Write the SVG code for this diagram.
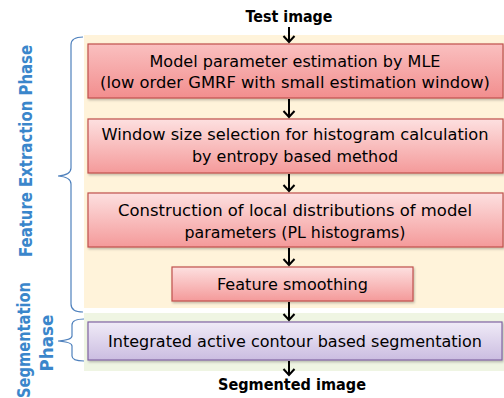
<svg xmlns="http://www.w3.org/2000/svg" width="504" height="398" viewBox="0 0 504 398">
<defs>
<linearGradient id="gPink" x1="0" y1="0" x2="0" y2="1">
<stop offset="0" stop-color="#FDE0E0"/>
<stop offset="1" stop-color="#F49A9A"/>
</linearGradient>
<linearGradient id="gPink1" x1="0" y1="0" x2="0" y2="1">
<stop offset="0" stop-color="#FAC0C0"/>
<stop offset="1" stop-color="#F28E8E"/>
</linearGradient>
<linearGradient id="gPurple" x1="0" y1="0" x2="0" y2="1">
<stop offset="0" stop-color="#F0EBF7"/>
<stop offset="1" stop-color="#CBBDE1"/>
</linearGradient>
<marker id="arr" markerUnits="userSpaceOnUse" markerWidth="14" markerHeight="14" refX="7" refY="7" orient="auto" viewBox="0 0 14 14">
<polyline points="1,1.5 7,7 1,12.5" fill="none" stroke="#000" stroke-width="2"/>
</marker>
<filter id="sh" x="-5%" y="-10%" width="110%" height="130%">
<feDropShadow dx="1" dy="1.5" stdDeviation="1" flood-color="#000" flood-opacity="0.25"/>
</filter>
</defs>
<style>
.bp{fill:url(#gPink);stroke:#C0504D;stroke-width:1.2;filter:url(#sh)}
.bp1{fill:url(#gPink1)}
.bv{fill:url(#gPurple);stroke:#8064A2;stroke-width:1.2;filter:url(#sh)}
.t{font-family:"DejaVu Sans","Liberation Sans",sans-serif;font-size:16.5px;fill:#000;text-anchor:middle}
.tb{font-family:"DejaVu Sans","Liberation Sans",sans-serif;font-size:15.5px;font-weight:bold;fill:#000;text-anchor:middle}
.ph{font-family:"DejaVu Sans","Liberation Sans",sans-serif;font-size:17.5px;font-weight:bold;fill:#3A86CB;text-anchor:middle}
.br{fill:none;stroke:#4F81BD;stroke-width:1.2}
.c{stroke:#000;stroke-width:2;fill:none;marker-end:url(#arr)}
</style>

<g id="backgrounds">
<rect x="84" y="35" width="420" height="273" fill="#FFF3DA"/>
<rect x="84" y="313" width="420" height="58" fill="#EFF5E3"/>
</g>

<g id="phase-labels">
<g id="feature-extraction-phase">
<text class="ph" transform="translate(32,151) rotate(-90)" textLength="212" lengthAdjust="spacingAndGlyphs">Feature Extraction Phase</text>
<path class="br" d="M83,37 Q71,37 71,45 L71,168 Q71,175 58,176 Q71,177 71,184 L71,304 Q71,312 83,312"/>
</g>
<g id="segmentation-phase">
<text class="ph" transform="translate(30,340) rotate(-90)" textLength="116" lengthAdjust="spacingAndGlyphs">Segmentation</text>
<text class="ph" transform="translate(53,343) rotate(-90)" textLength="57" lengthAdjust="spacingAndGlyphs">Phase</text>
<path class="br" d="M84,319 Q72,319 72,325 L72,336 Q72,340 58,341 Q72,342 72,346 L72,356 Q72,361 84,361"/>
</g>
</g>

<g id="test-image">
<text class="tb" x="289" y="22" textLength="87" lengthAdjust="spacingAndGlyphs">Test image</text>
</g>

<g id="box-mle">
<rect class="bp bp1" x="88" y="44" width="415" height="54"/>
<text class="t" x="295" y="67" textLength="291" lengthAdjust="spacingAndGlyphs">Model parameter estimation by MLE</text>
<text class="t" x="295" y="88" textLength="390" lengthAdjust="spacingAndGlyphs">(low order GMRF with small estimation window)</text>
</g>

<g id="box-window">
<rect class="bp" x="88" y="119" width="415" height="54"/>
<text class="t" x="295" y="140" textLength="387" lengthAdjust="spacingAndGlyphs">Window size selection for histogram calculation</text>
<text class="t" x="295" y="162" textLength="206" lengthAdjust="spacingAndGlyphs">by entropy based method</text>
</g>

<g id="box-construction">
<rect class="bp" x="88" y="193" width="415" height="54"/>
<text class="t" x="295" y="216" textLength="354" lengthAdjust="spacingAndGlyphs">Construction of local distributions of model</text>
<text class="t" x="295" y="238" textLength="221" lengthAdjust="spacingAndGlyphs">parameters (PL histograms)</text>
</g>

<g id="box-smoothing">
<rect class="bp" x="172" y="267" width="241" height="34"/>
<text class="t" x="292.5" y="290" textLength="151" lengthAdjust="spacingAndGlyphs">Feature smoothing</text>
</g>

<g id="box-segmentation">
<rect class="bv" x="88" y="322" width="414" height="38"/>
<text class="t" x="295" y="347" textLength="374" lengthAdjust="spacingAndGlyphs">Integrated active contour based segmentation</text>
</g>

<g id="segmented-image">
<text class="tb" x="292" y="390" textLength="148" lengthAdjust="spacingAndGlyphs">Segmented image</text>
</g>

<g id="connectors">
<line class="c" x1="289" y1="27" x2="289" y2="42"/>
<line class="c" x1="289" y1="99" x2="289" y2="117"/>
<line class="c" x1="289" y1="174" x2="289" y2="191"/>
<line class="c" x1="289" y1="248" x2="289" y2="265"/>
<line class="c" x1="289" y1="302" x2="289" y2="320"/>
<line class="c" x1="289" y1="361" x2="289" y2="375"/>
</g>
</svg>
